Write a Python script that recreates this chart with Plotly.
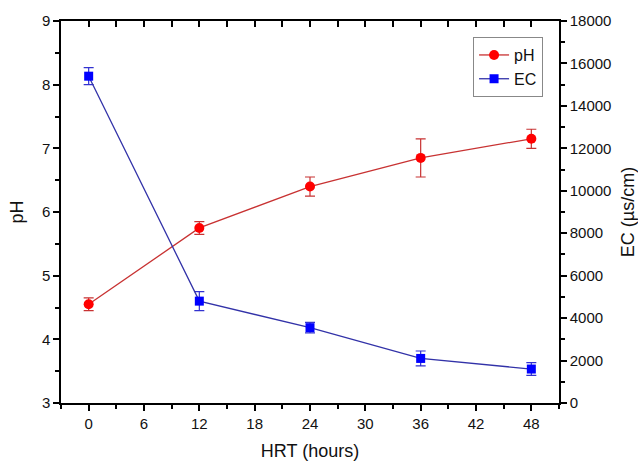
import plotly.graph_objects as go

# HRT sampling times (hours)
hrt = [0, 12, 24, 36, 48]

# pH readings with standard deviations
ph = [4.55, 5.75, 6.40, 6.85, 7.15]
ph_err = [0.10, 0.10, 0.15, 0.30, 0.15]

# Electrical conductivity (µs/cm) with standard deviations
ec = [15400, 4800, 3550, 2100, 1600]
ec_err = [400, 450, 250, 350, 300]

font_family = "Liberation Sans, Arial, sans-serif"

fig = go.Figure()

fig.add_trace(go.Scatter(
    x=hrt, y=ph, name="pH", mode="lines+markers",
    line=dict(color="#C83232", width=1.3),
    marker=dict(symbol="circle", size=10, color="#FF0000"),
    error_y=dict(type="data", array=ph_err, visible=True,
                 color="#C83232", thickness=1.2, width=5),
    yaxis="y",
))

fig.add_trace(go.Scatter(
    x=hrt, y=ec, name="EC", mode="lines+markers",
    line=dict(color="#3232A8", width=1.3),
    marker=dict(symbol="square", size=9, color="#0000FF"),
    error_y=dict(type="data", array=ec_err, visible=True,
                 color="#3232D0", thickness=1.2, width=5),
    yaxis="y2",
))

# Invisible trace that carries the top frame axis
fig.add_trace(go.Scatter(x=[0, 48], y=[3, 3], xaxis="x2", yaxis="y",
                         mode="markers", marker=dict(opacity=0),
                         showlegend=False, hoverinfo="skip"))

axis_common = dict(
    showline=True, linecolor="black", linewidth=1.5,
    showgrid=False, zeroline=False, automargin=False,
    tickfont=dict(family=font_family, size=15, color="#111"),
    tickcolor="black", tickwidth=1.5,
)

fig.update_layout(
    width=638, height=463,
    margin=dict(l=61, r=79, t=21, b=60),
    plot_bgcolor="white", paper_bgcolor="white",
    font=dict(family=font_family, color="#111"),
    showlegend=True,
    legend=dict(
        x=0.968, y=0.958, xanchor="right", yanchor="top",
        bgcolor="white", bordercolor="#888", borderwidth=1,
        font=dict(family=font_family, size=16, color="#111"),
        tracegroupgap=0, itemwidth=30,
    ),
    xaxis=dict(
        **axis_common,
        range=[-3, 51], tick0=0, dtick=6,
        ticks="outside", ticklen=6,
        minor=dict(ticks="outside", ticklen=4, tick0=0, dtick=3,
                   tickcolor="black", tickwidth=1.5),
        title=dict(text="HRT (hours)", font=dict(size=18), standoff=14),
    ),
    xaxis2=dict(
        overlaying="x", side="top", anchor="y",
        range=[-3, 51], tick0=0, dtick=6,
        showline=True, linecolor="black", linewidth=1.5,
        showgrid=False, zeroline=False,
        showticklabels=False,
        ticks="inside", ticklen=6, tickcolor="black", tickwidth=1.5,
        minor=dict(ticks="inside", ticklen=6, tick0=0, dtick=3,
                   tickcolor="black", tickwidth=1.5),
    ),
    yaxis=dict(
        **axis_common,
        range=[3, 9], tick0=3, dtick=1,
        ticks="outside", ticklen=6,
        minor=dict(ticks="outside", ticklen=4, dtick=0.5,
                   tickcolor="black", tickwidth=1.5),
        title=dict(text="pH", font=dict(size=18), standoff=14),
    ),
    yaxis2=dict(
        **axis_common,
        overlaying="y", side="right", anchor="x",
        range=[0, 18000], tick0=0, dtick=2000,
        tickformat="d",
        ticks="outside", ticklen=6,
        minor=dict(ticks="outside", ticklen=4, dtick=1000,
                   tickcolor="black", tickwidth=1.5),
        title=dict(text="EC (µs/cm)", font=dict(size=18), standoff=16),
    ),
)

fig.write_html("out.html")
